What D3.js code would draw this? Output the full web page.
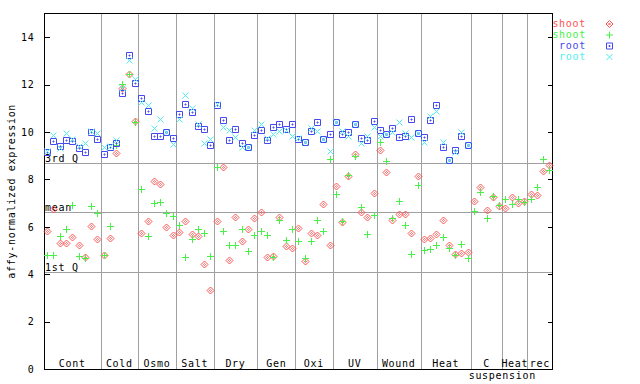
<!DOCTYPE html>
<html>
<head>
<meta charset="utf-8">
<script src="https://cdn.jsdelivr.net/npm/d3@7"></script>
<style>
  body { margin: 0; background: #fff; }
  svg text { font-family: "DejaVu Sans Mono", monospace; font-size: 10px; letter-spacing: 0.7px; }
</style>
</head>
<body>
<svg id="chart" width="640" height="384"></svg>
<script>
// groups of samples along x
var groupNames = ["Cont", "Cold", "Osmo", "Salt", "Dry", "Gen", "Oxi", "UV", "Wound", "Heat", "C", "Heat", "rec"];
var groupSizes = [9, 6, 6, 6, 7, 6, 6, 7, 7, 8, 5, 4, 4];

var shoot1 = [5.82, 6.74, 5.30, 5.30, 5.56, 5.23, 4.74, 6.03, 5.47,
    4.81, 5.51, 9.10, 11.84, 12.43, 10.48,
    5.72, 6.23, 7.93, 7.79, 5.98, 5.65,
    5.78, 6.23, 5.70, 5.60, 4.42, 3.32,
    6.23, 8.52, 4.60, 6.40, 5.40, 5.89, 6.36,
    6.61, 4.71, 4.75, 6.40, 5.18, 5.09,
    5.94, 4.54, 5.72, 5.64, 6.95, 5.22,
    7.71, 6.19, 8.15, 9.06, 6.61, 6.40, 7.41,
    9.23, 8.30, 6.30, 6.53, 6.53, 5.72, 8.13,
    5.47, 5.51, 5.68, 6.27, 5.22, 4.84, 4.88, 4.92,
    7.08, 7.67, 6.70, 7.25, 6.86,
    6.78, 7.25, 6.99, 7.08,
    7.37, 7.33, 8.34, 8.59];

var shoot2 = [4.81, 4.81, 5.61, 5.89, 6.92, 4.77, 4.70, 6.88, 6.60,
    4.81, 6.03, 9.45, 12.01, 12.45, 10.42,
    7.58, 5.61, 6.99, 7.05, 6.60, 6.47,
    6.06, 4.71, 5.50, 5.89, 5.72, 4.75,
    8.52, 5.81, 5.22, 5.22, 5.92, 4.98, 5.64,
    5.81, 5.64, 4.71, 6.27, 5.43, 5.89,
    5.40, 4.70, 5.39, 6.27, 5.81, 8.85,
    7.37, 6.23, 8.17, 9.00, 6.82, 5.68, 6.48,
    9.56, 8.76, 6.37, 7.08, 6.06, 4.84, 7.75,
    5.01, 5.05, 5.22, 5.56, 5.09, 4.80, 5.26, 4.67,
    6.65, 7.46, 6.36, 7.29, 6.91,
    7.16, 6.95, 7.16, 7.03,
    7.16, 7.67, 8.85, 8.38];

var root1 = [9.17, 9.62, 9.40, 9.66, 9.62, 9.34, 9.14, 10.00, 9.70,
    9.06, 9.38, 9.52, 11.66, 13.25, 12.05,
    11.42, 10.89, 9.83, 9.83, 10.01, 9.73,
    10.75, 11.17, 10.83, 10.25, 10.11, 9.44,
    11.14, 10.49, 9.65, 10.11, 9.54, 9.38, 9.86,
    10.07, 9.65, 10.20, 10.32, 10.11, 10.36,
    9.69, 9.58, 10.03, 10.41, 9.69, 9.90,
    10.44, 9.90, 9.99, 10.36, 9.73, 9.65, 10.45,
    10.07, 9.93, 10.16, 9.78, 9.82, 10.54, 9.94,
    9.78, 10.49, 11.13, 9.35, 8.83, 9.23, 9.82, 9.47];

var root2 = [9.20, 9.87, 9.32, 9.95, 9.72, 9.40, 9.52, 10.04, 9.98,
    9.35, 9.42, 9.66, 11.84, 13.04, 12.24,
    11.28, 11.14, 10.16, 10.54, 10.00, 9.49,
    10.55, 11.56, 11.00, 10.32, 9.55, 9.69,
    11.20, 10.22, 10.07, 9.78, 9.35, 9.38, 10.08,
    10.32, 9.73, 9.90, 10.03, 10.08, 9.82,
    9.73, 9.60, 10.16, 10.03, 9.69, 9.18,
    10.44, 10.06, 9.83, 10.36, 9.52, 9.83, 10.20,
    9.83, 9.90, 10.00, 10.41, 9.94, 9.78, 9.94,
    9.60, 10.67, 10.89, 9.60, 8.83, 9.14, 10.00, 9.47];

var refLabels = ["3rd Q", "mean", "1st Q"];
var refValues = [8.68, 6.61, 4.08];

var yTicks = [0, 2, 4, 6, 8, 10, 12, 14];

var legendNames = ["shoot", "shoot", "root", "root"];

var svg = d3.select("#chart");
var plotLeft = 44, plotRight = 552.5, plotTop = 13.6, plotBottom = 369;
var nSamples = d3.sum(groupSizes);

var x = d3.scaleLinear().domain([0, nSamples]).range([plotLeft, plotRight]);
var y = d3.scaleLinear().domain([0, 15]).range([plotBottom, plotTop]);
var px = function (v) { return Math.round(v) + 0.5; };

var grey = "#a0a0a0";
var colors = ["#ff5050", "#48f048", "#4848f0", "#50f0f0"];

// group separators
var bounds = Array.from(d3.cumsum(groupSizes));
var starts = [0].concat(bounds.slice(0, -1));
svg.append("g").selectAll("line")
    .data(bounds.slice(0, -1))
    .enter().append("line")
    .attr("x1", function (d) { return px(x(d)); })
    .attr("x2", function (d) { return px(x(d)); })
    .attr("y1", plotTop).attr("y2", plotBottom)
    .attr("stroke", grey).attr("stroke-width", 1)
    .attr("shape-rendering", "crispEdges");

// reference lines
var ref = svg.append("g").selectAll("g")
    .data(refValues)
    .enter().append("g");
ref.append("line")
    .attr("x1", plotLeft).attr("x2", plotRight)
    .attr("y1", function (d) { return px(y(d)); })
    .attr("y2", function (d) { return px(y(d)); })
    .attr("stroke", grey).attr("stroke-width", 1)
    .attr("shape-rendering", "crispEdges");
ref.append("text")
    .attr("x", plotLeft + 1)
    .attr("y", function (d) { return y(d) - 1.5; })
    .text(function (d, i) { return refLabels[i]; });

// axes
svg.append("g")
    .attr("transform", "translate(" + px(plotLeft) + ",0)")
    .call(d3.axisLeft(y).tickValues(yTicks).tickSize(-5).tickPadding(10).tickFormat(d3.format("d")))
    .call(function (g) {
        g.select(".domain").remove();
        g.attr("font-family", null).attr("font-size", null);
        g.selectAll("line").attr("stroke", "#000").attr("shape-rendering", "crispEdges");
        g.selectAll("text").attr("fill", "#000");
    });
svg.append("g")
    .attr("transform", "translate(" + (Math.round(plotRight) - 0.5) + ",0)")
    .call(d3.axisRight(y).tickValues(yTicks).tickSize(-5).tickFormat(""))
    .call(function (g) {
        g.select(".domain").remove();
        g.selectAll("line").attr("stroke", "#000").attr("shape-rendering", "crispEdges");
    });

svg.append("rect")
    .attr("x", px(plotLeft)).attr("y", Math.round(plotTop) - 0.5)
    .attr("width", Math.round(plotRight) - 1 - Math.round(plotLeft))
    .attr("height", Math.round(plotBottom) - Math.round(plotTop) + 1)
    .attr("fill", "none").attr("stroke", "#000")
    .attr("shape-rendering", "crispEdges");

// group labels
svg.append("g").selectAll("text")
    .data(groupNames)
    .enter().append("text")
    .attr("x", function (d, i) { return x(starts[i] + groupSizes[i] / 2); })
    .attr("y", 367)
    .attr("text-anchor", "middle")
    .text(function (d) { return d; });
svg.append("text")
    .attr("x", x(bounds[10]))
    .attr("y", 379)
    .attr("text-anchor", "middle")
    .text("suspension");

svg.append("text")
    .attr("transform", "translate(15," + ((plotTop + plotBottom) / 2) + ") rotate(-90)")
    .attr("text-anchor", "middle")
    .text("affy-normalized expression");

// markers
var shapes = [
    "M0,-3.5L3.5,0L0,3.5L-3.5,0ZM0,-1L1,0L0,1L-1,0Z",
    "M-3.5,0H3.5M0,-3.5V3.5",
    "M-3,-3H3V3H-3ZM-0.5,-0.5H0.5V0.5H-0.5Z",
    "M-3,-3L3,3M-3,3L3,-3"
];
var series = [shoot1, shoot2, root1, root2];

series.forEach(function (vals, s) {
    svg.append("g").selectAll("path")
        .data(vals)
        .enter().append("path")
        .attr("transform", function (d, i) {
            return "translate(" + (Math.round(x(i + 0.5)) + 0.5) + "," + (Math.round(y(d)) + 0.5) + ")";
        })
        .attr("d", shapes[s])
        .attr("fill", "none")
        .attr("stroke", colors[s])
        .attr("stroke-width", 1);
});

// legend
var legend = svg.append("g").selectAll("g")
    .data(legendNames)
    .enter().append("g")
    .attr("transform", function (d, i) { return "translate(0," + (23.5 + i * 11) + ")"; });
legend.append("text")
    .attr("x", 586)
    .attr("y", 3.5)
    .attr("text-anchor", "end")
    .attr("fill", function (d, i) { return colors[i]; })
    .text(function (d) { return d; });
legend.append("path")
    .attr("transform", "translate(609.5,0.5)")
    .attr("d", function (d, i) { return shapes[i]; })
    .attr("fill", "none")
    .attr("stroke", function (d, i) { return colors[i]; });
</script>
</body>
</html>
